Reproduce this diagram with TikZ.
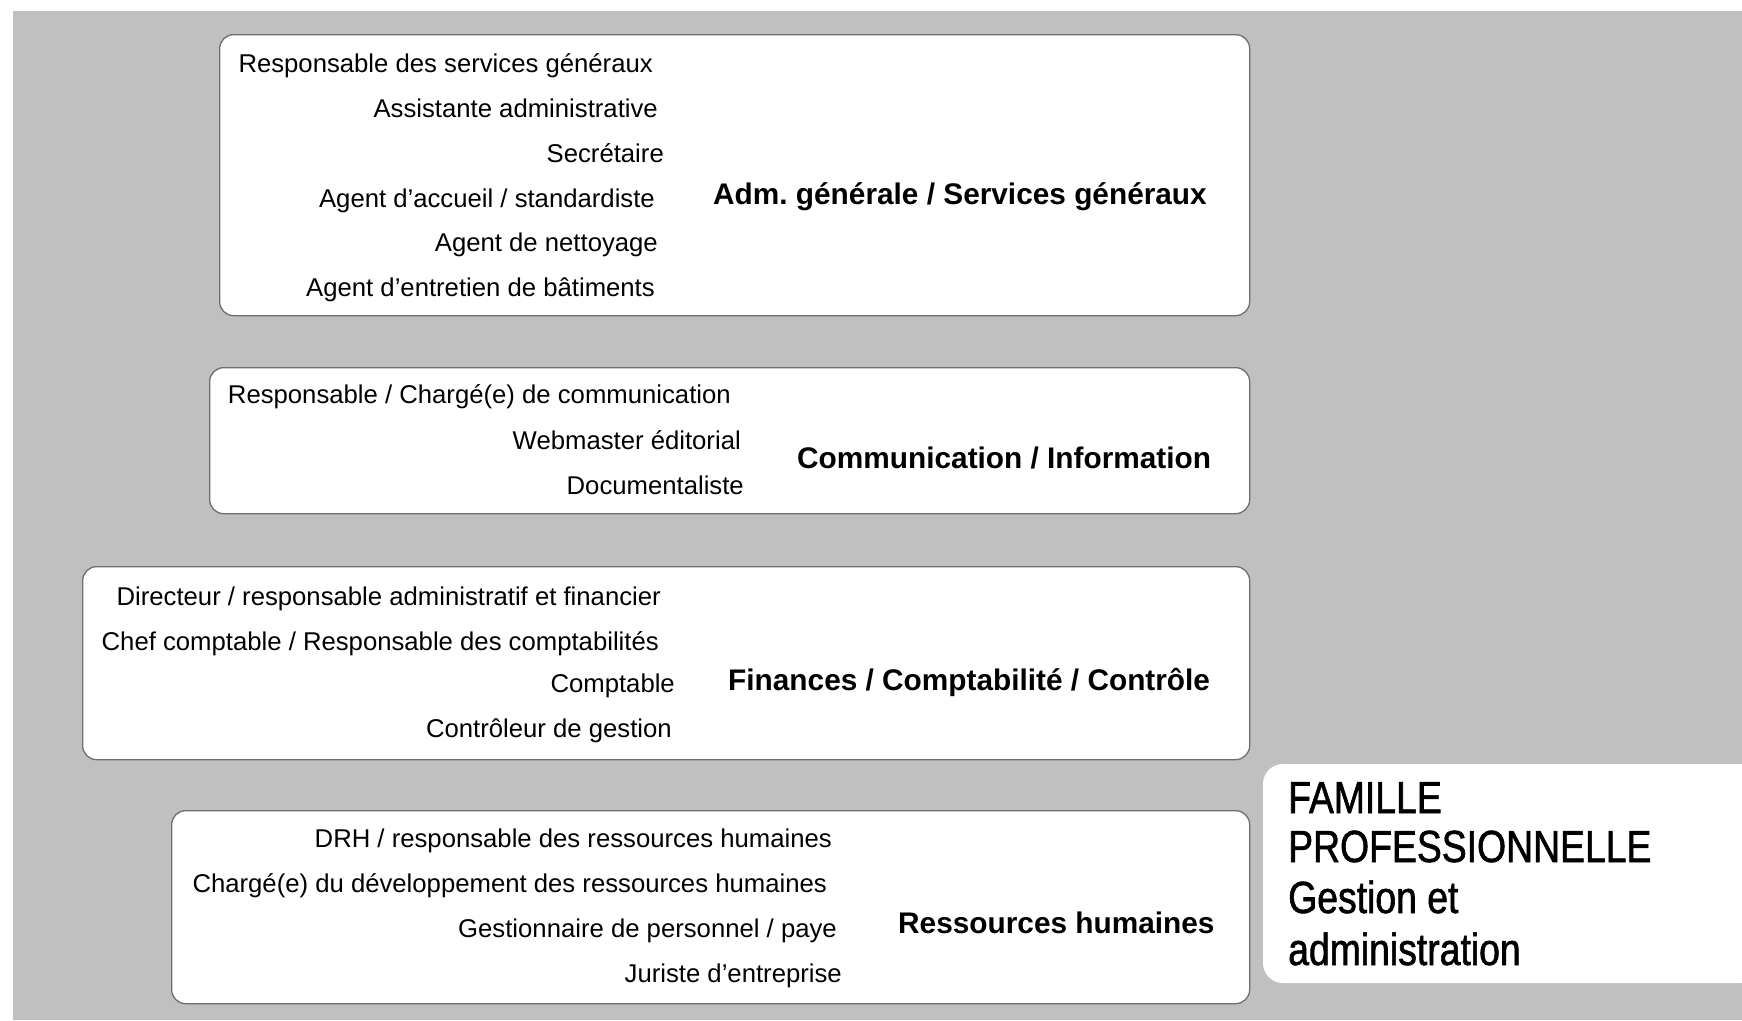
\documentclass[tikz,border=0pt]{standalone}
\usepackage{fontspec}
\setmainfont{Liberation Sans}
\newfontfamily\narrowfont[FakeStretch=0.83,FakeBold=1.3]{Liberation Sans}
\definecolor{bggray}{HTML}{C0C0C0}
\definecolor{edgegray}{HTML}{6E6E6E}
\tikzset{
  groupbox/.style={draw=edgegray, line width=1.3pt, fill=white, rounded corners=14pt, anchor=north west, inner sep=0pt},
  jobtext/.style={anchor=base east, inner sep=0pt, font=\fontsize{25.7}{30}\selectfont},
  grouptitle/.style={anchor=base west, inner sep=0pt, font=\fontsize{29.8}{34}\selectfont\bfseries},
  famline/.style={anchor=base west, inner sep=0pt, font=\fontsize{45}{50}\narrowfont}
}
\begin{document}
\frenchspacing
\begin{tikzpicture}[x=1pt,y=-1pt]
\useasboundingbox (0,0) rectangle (1742,1020);
\fill[white] (0,0) rectangle (1742,1020);
\fill[bggray] (13,11) rectangle (1742,1020);

% Box 1
\node[groupbox, minimum width=1030pt, minimum height=281pt] (b1) at (219,34) {};
\node[jobtext] (j11) at (653,72) {Responsable des services généraux};
\node[jobtext] (j12) at (658,117) {Assistante administrative};
\node[jobtext] (j13) at (664,162) {Secrétaire};
\node[jobtext] (j14) at (655,207) {Agent d’accueil / standardiste};
\node[jobtext] (j15) at (658,251) {Agent de nettoyage};
\node[jobtext] (j16) at (655,296) {Agent d’entretien de bâtiments};
\node[grouptitle] (d1) at (713,204) {Adm. générale / Services généraux};

% Box 2
\node[groupbox, minimum width=1040pt, minimum height=146pt] (b2) at (209,367) {};
\node[jobtext] (j21) at (731,403) {Responsable / Chargé(e) de communication};
\node[jobtext] (j22) at (741,449) {Webmaster éditorial};
\node[jobtext] (j23) at (744,494) {Documentaliste};
\node[grouptitle] (d2) at (797,468) {Communication / Information};

% Box 3
\node[groupbox, minimum width=1167pt, minimum height=193pt] (b3) at (82,566) {};
\node[jobtext] (j31) at (661,605) {Directeur / responsable administratif et financier};
\node[jobtext] (j32) at (659,650) {Chef comptable / Responsable des comptabilités};
\node[jobtext] (j33) at (675,692) {Comptable};
\node[jobtext] (j34) at (672,737) {Contrôleur de gestion};
\node[grouptitle] (d3) at (728,690) {Finances / Comptabilité / Contrôle};

% Box 4
\node[groupbox, minimum width=1078pt, minimum height=193pt] (b4) at (171,810) {};
\node[jobtext] (j41) at (832,847) {DRH / responsable des ressources humaines};
\node[jobtext] (j42) at (827,892) {Chargé(e) du développement des ressources humaines};
\node[jobtext] (j43) at (837,937) {Gestionnaire de personnel / paye};
\node[jobtext] (j44) at (842,982) {Juriste d’entreprise};
\node[grouptitle] (d4) at (898,933) {Ressources humaines};

% Famille box
\fill[white, rounded corners=20pt] (1263,764) rectangle (1760,983);
\node[famline] (f1) at (1288,813) {FAMILLE};
\node[famline] (f2) at (1288,862) {PROFESSIONNELLE};
\node[famline] (f3) at (1288,913) {Gestion et};
\node[famline] (f4) at (1288,965) {administration};
\end{tikzpicture}
\end{document}
